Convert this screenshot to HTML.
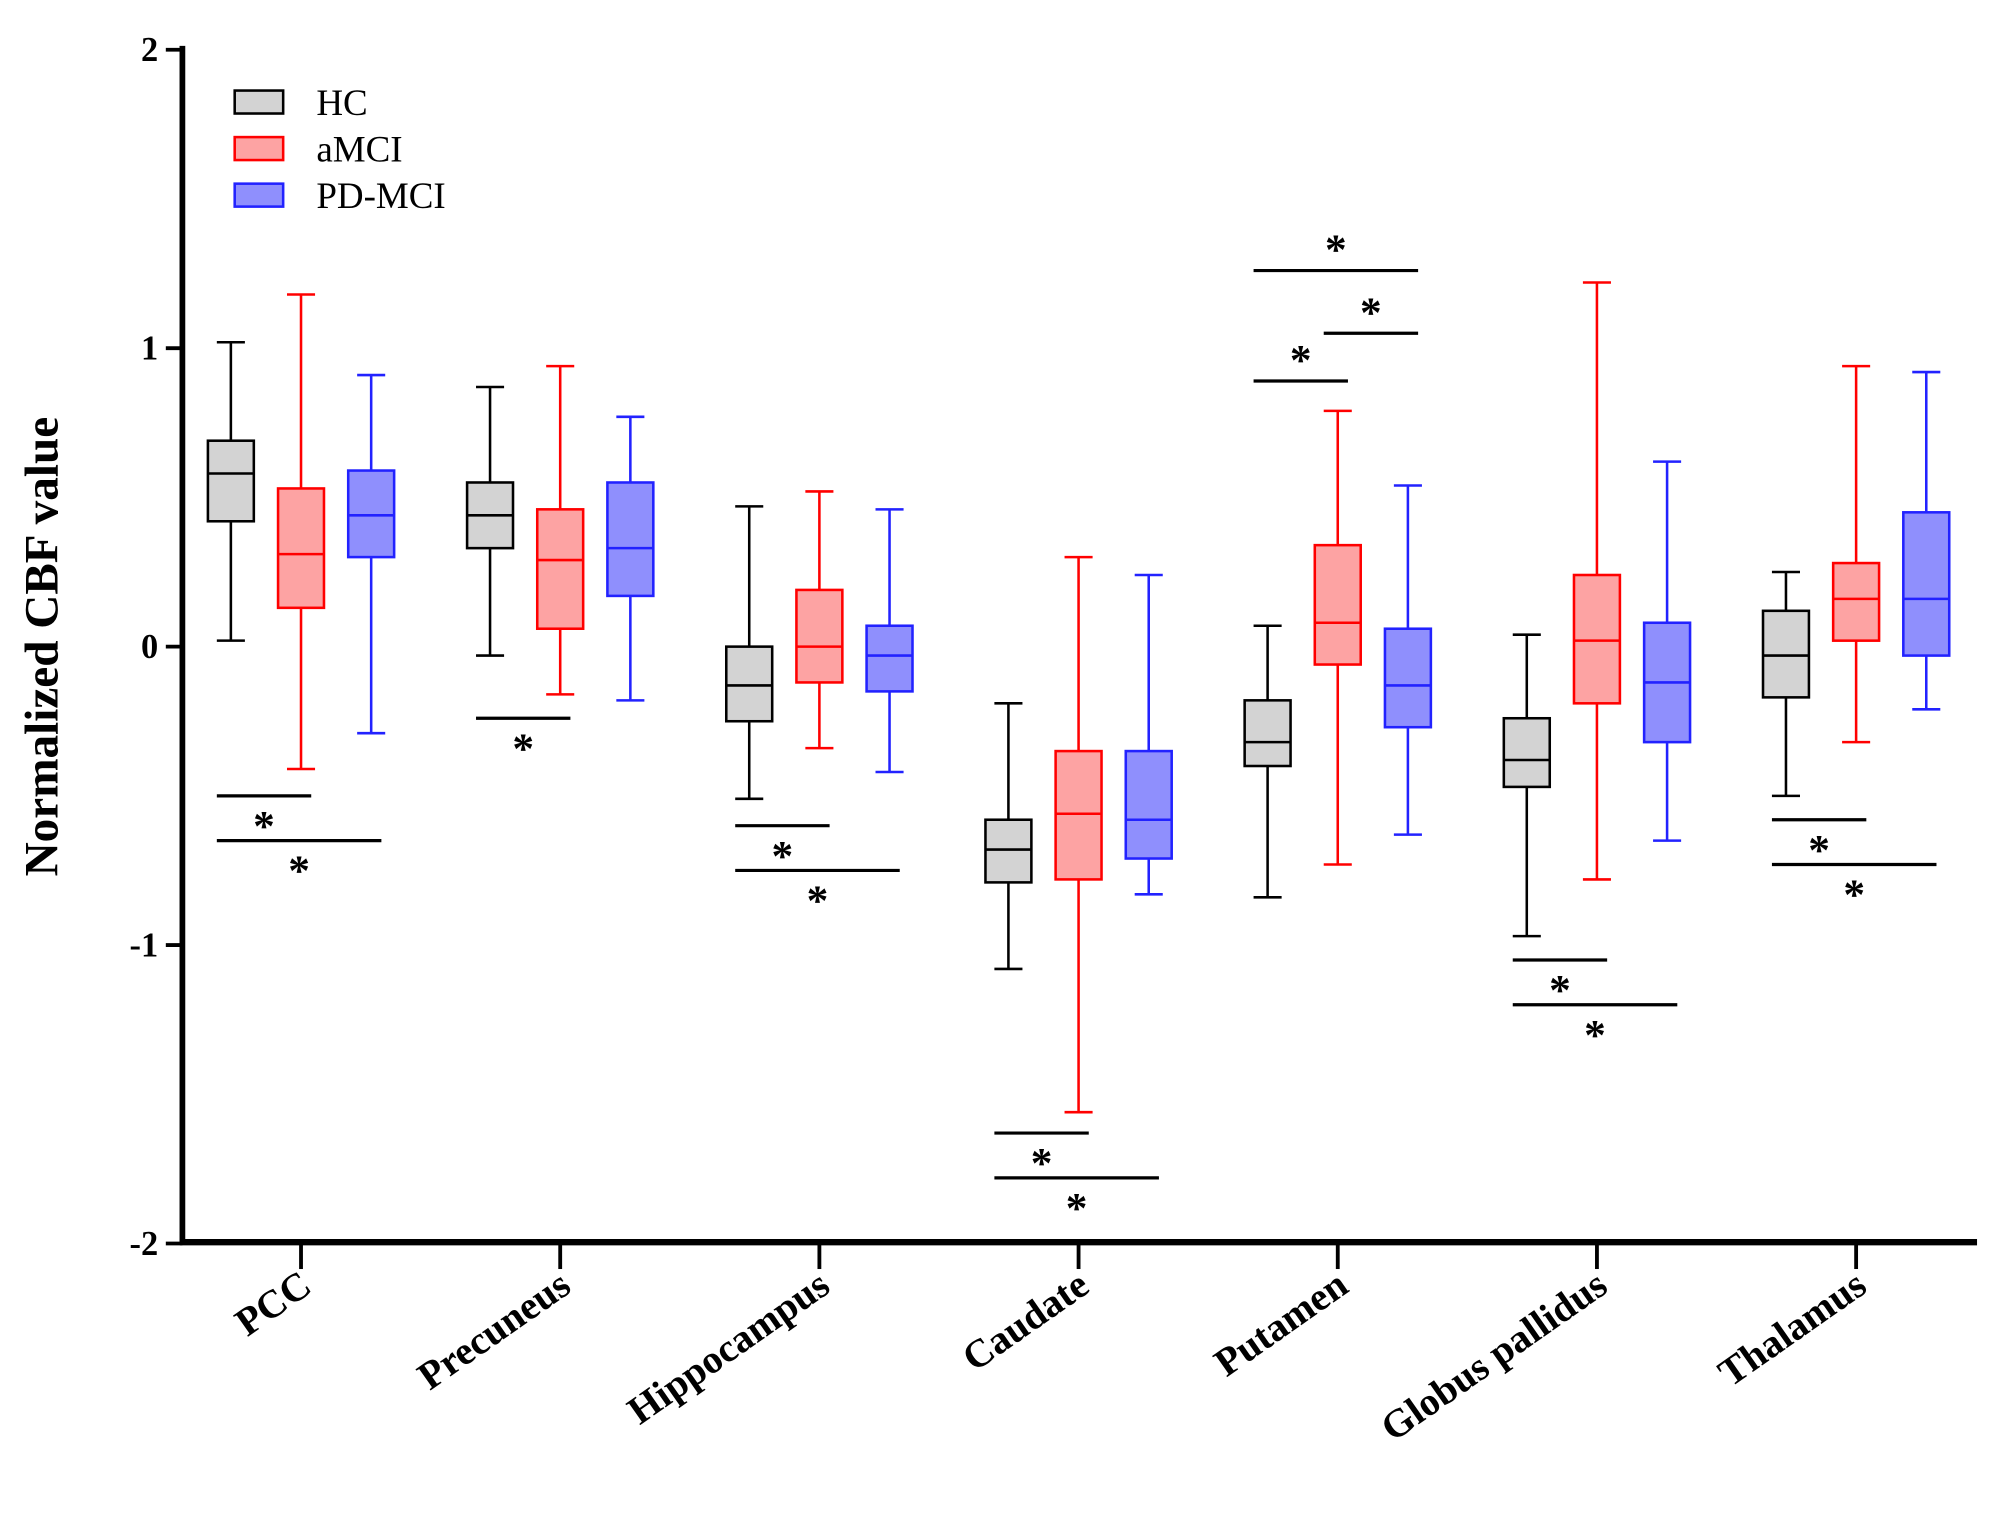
<!DOCTYPE html>
<html><head><meta charset="utf-8"><style>
html,body{margin:0;padding:0;background:#fff;}
svg{display:block;font-family:"Liberation Serif",serif;}
</style></head><body>
<svg id="chart" width="2000" height="1519" viewBox="0 0 1568 1191" preserveAspectRatio="none" xmlns="http://www.w3.org/2000/svg">
<g id="plot"></g>
</svg>
<script>
const categories = ["PCC","Precuneus","Hippocampus","Caudate","Putamen","Globus pallidus","Thalamus"];
const groups = ["HC","aMCI","PD-MCI"];
// each: [max, q3, median, q1, min] per category
const hcValues = [[1.02,0.69,0.58,0.42,0.02],[0.87,0.55,0.44,0.33,-0.03],[0.47,0.0,-0.13,-0.25,-0.51],[-0.19,-0.58,-0.68,-0.79,-1.08],[0.07,-0.18,-0.32,-0.40,-0.84],[0.04,-0.24,-0.38,-0.47,-0.97],[0.25,0.12,-0.03,-0.17,-0.50]];
const amciValues = [[1.18,0.53,0.31,0.13,-0.41],[0.94,0.46,0.29,0.06,-0.16],[0.52,0.19,0.0,-0.12,-0.34],[0.30,-0.35,-0.56,-0.78,-1.56],[0.79,0.34,0.08,-0.06,-0.73],[1.22,0.24,0.02,-0.19,-0.78],[0.94,0.28,0.16,0.02,-0.32]];
const pdValues = [[0.91,0.59,0.44,0.30,-0.29],[0.77,0.55,0.33,0.17,-0.18],[0.46,0.07,-0.03,-0.15,-0.42],[0.24,-0.35,-0.58,-0.71,-0.83],[0.54,0.06,-0.13,-0.27,-0.63],[0.62,0.08,-0.12,-0.32,-0.65],[0.92,0.45,0.16,-0.03,-0.21]];
const yTicks = [2,1,0,-1,-2];
const yTickLabels = ["2","1","0","-1","-2"];
// significance: [categoryIndex, fromGroup, toGroup, yValue, starAbove]
const sigBars = [[0,0,1,-0.50,false],[0,0,2,-0.65,false],[1,0,1,-0.24,false],[2,0,1,-0.60,false],[2,0,2,-0.75,false],[3,0,1,-1.63,false],[3,0,2,-1.78,false],[4,0,1,0.89,true],[4,1,2,1.05,true],[4,0,2,1.26,true],[5,0,1,-1.05,false],[5,0,2,-1.20,false],[6,0,1,-0.58,false],[6,0,2,-0.73,false]];

const NS="http://www.w3.org/2000/svg";
const g=document.getElementById('plot');
const y=v=>507-v*234;
const xCat=i=>236+i*203.2;
const gOff=[-55,0,55];
const fills=["#d3d3d3","#fda3a3","#8f8ffd"];
const strokes=["#000","#ff0000","#2222ff"];
function el(t,a,p){const e=document.createElementNS(NS,t);for(const k in a)e.setAttribute(k,a[k]);(p||g).appendChild(e);return e;}
let ya=el('line',{x1:143,y1:36,x2:143,y2:976,stroke:'#000','stroke-width':4.5});


let xa=el('line',{x1:141,y1:974,x2:1550,y2:974,stroke:'#000','stroke-width':5});


yTicks.forEach((v,i)=>{
  let t=el('line',{x1:130,y1:y(v),x2:143,y2:y(v),stroke:'#000','stroke-width':3});
  
  
  let l=el('text',{x:124,y:y(v)+9,'text-anchor':'end','font-size':27,'font-weight':'bold'});
  l.textContent=yTickLabels[i];
  
  
});
let yt=el('text',{x:0,y:0,transform:'translate(45,507) rotate(-90)','text-anchor':'middle','font-size':37,'font-weight':'bold'});
yt.textContent='Normalized CBF value';


categories.forEach((c,i)=>{
  const cx=xCat(i);
  let t=el('line',{x1:cx,y1:974,x2:cx,y2:995,stroke:'#000','stroke-width':3});
  
  
  let l=el('text',{x:0,y:0,transform:`translate(${cx+10},1012) rotate(-35)`,'text-anchor':'end','font-size':31,'font-weight':'bold'});
  l.textContent=c;
  
  
});
const all=[hcValues,amciValues,pdValues];
all.forEach((vals,gi)=>{
  vals.forEach((d,ci)=>{
    const cx=xCat(ci)+gOff[gi], w=36, cw=22;
    const bg=el('g',{});
    
    
    const s={stroke:strokes[gi],'stroke-width':2,fill:'none'};
    el('line',Object.assign({x1:cx,y1:y(d[0]),x2:cx,y2:y(d[1])},s),bg);
    el('line',Object.assign({x1:cx,y1:y(d[3]),x2:cx,y2:y(d[4])},s),bg);
    el('line',Object.assign({x1:cx-cw/2,y1:y(d[0]),x2:cx+cw/2,y2:y(d[0])},s),bg);
    el('line',Object.assign({x1:cx-cw/2,y1:y(d[4]),x2:cx+cw/2,y2:y(d[4])},s),bg);
    el('rect',{x:cx-w/2,y:y(d[1]),width:w,height:y(d[3])-y(d[1]),fill:fills[gi],stroke:strokes[gi],'stroke-width':2},bg);
    el('line',Object.assign({x1:cx-w/2,y1:y(d[2]),x2:cx+w/2,y2:y(d[2])},s),bg);
  });
});
sigBars.forEach(b=>{
  const x1=xCat(b[0])+gOff[b[1]]-11, x2=xCat(b[0])+gOff[b[2]]+8;
  const yy=y(b[3]);
  let l=el('line',{x1:x1,y1:yy,x2:x2,y2:yy,stroke:'#000','stroke-width':2.5});
  
  
  let s=el('text',{x:(x1+x2)/2,y:b[4]?yy-5:yy+35,'text-anchor':'middle','font-size':34,'font-weight':'bold'});
  s.textContent='*';
  
  
});
groups.forEach((n,i)=>{
  const lg=el('g',{});
  
  
  const yy=71+i*36.5;
  el('rect',{x:184,y:yy,width:38,height:18,fill:fills[i],stroke:strokes[i],'stroke-width':2},lg);
  const t=el('text',{x:248,y:yy+19,'font-size':29},lg);
  t.textContent=n;
});
</script>
</body></html>
